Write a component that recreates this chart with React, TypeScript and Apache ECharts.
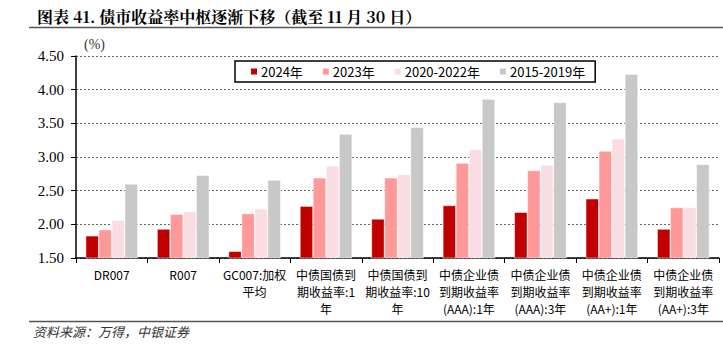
import React, { useEffect, useRef } from "react";
import * as echarts from "echarts";

const categories = [
  "DR007",
  "R007",
  "GC007:加权\n平均",
  "中债国债到\n期收益率:1\n年",
  "中债国债到\n期收益率:10\n年",
  "中债企业债\n到期收益率\n(AAA):1年",
  "中债企业债\n到期收益率\n(AAA):3年",
  "中债企业债\n到期收益率\n(AA+):1年",
  "中债企业债\n到期收益率\n(AA+):3年",
];
const seriesNames = ["2024年", "2023年", "2020-2022年", "2015-2019年"];
const y2024 = [1.83, 1.93, 1.6, 2.27, 2.08, 2.28, 2.18, 2.38, 1.93];
const y2023 = [1.92, 2.15, 2.16, 2.69, 2.69, 2.91, 2.8, 3.09, 2.25];
const y2020_2022 = [2.06, 2.19, 2.23, 2.87, 2.74, 3.11, 2.88, 3.27, 2.25];
const y2015_2019 = [2.6, 2.73, 2.66, 3.34, 3.44, 3.86, 3.81, 4.23, 2.89];
const colors = ["#C00000", "#FF9999", "#FADDE2", "#C8C8C8"];

export default function App() {
  const ref = useRef<HTMLDivElement>(null);
  useEffect(() => {
    if (!ref.current) return;
    const chart = echarts.init(ref.current, null, { renderer: "svg" });
    const data = [y2024, y2023, y2020_2022, y2015_2019];
    chart.setOption({
      animation: false,
      backgroundColor: "#ffffff",
      title: {
        text: "图表 41. 债市收益率中枢逐渐下移（截至 11 月 30 日）",
        left: 32,
        top: 3,
        textStyle: {
          fontFamily: "Noto Serif CJK SC, Noto Sans CJK SC, serif",
          fontSize: 16,
          fontWeight: "bold",
          color: "#000",
        },
      },
      graphic: [
        { type: "line", shape: { x1: 29, y1: 27.5, x2: 723, y2: 27.5 }, style: { stroke: "#555", lineWidth: 1.5 } },
        { type: "line", shape: { x1: 29, y1: 321.5, x2: 723, y2: 321.5 }, style: { stroke: "#555", lineWidth: 1.5 } },
        {
          type: "text",
          left: 33,
          top: 325,
          style: {
            text: "资料来源：万得，中银证券",
            font: "italic 13px 'Noto Sans CJK SC'",
            fill: "#333",
          },
        },
        {
          type: "text",
          left: 84,
          top: 37,
          style: { text: "(%)", font: "14px 'Liberation Serif'", fill: "#333" },
        },
      ],
      legend: {
        left: 235,
        top: 61,
        width: 357,
        itemWidth: 8,
        itemHeight: 8,
        itemGap: 18,
        padding: [4, 10, 4, 14],
        borderColor: "#000",
        borderWidth: 1.5,
        icon: "rect",
        textStyle: { fontFamily: "Noto Sans CJK SC", fontSize: 13, color: "#000", padding: [0, 0, 0, -2] },
        data: seriesNames,
      },
      grid: { left: 76, right: 4, top: 56, bottom: 91, containLabel: false },
      xAxis: {
        type: "category",
        data: categories,
        axisLine: { lineStyle: { color: "#000", width: 1.5 } },
        axisTick: { show: true, length: 5, lineStyle: { color: "#000" } },
        axisLabel: {
          interval: 0,
          margin: 8,
          fontFamily: "Noto Sans CJK SC",
          fontSize: 12,
          lineHeight: 17,
          color: "#000",
        },
      },
      yAxis: {
        type: "value",
        min: 1.5,
        max: 4.5,
        interval: 0.5,
        axisLine: { show: true, lineStyle: { color: "#000", width: 1.5 } },
        axisTick: { show: true, length: 5, inside: false, lineStyle: { color: "#000" } },
        axisLabel: {
          formatter: (v: number) => v.toFixed(2),
          fontFamily: "Liberation Serif",
          fontSize: 15,
          color: "#000",
          margin: 12,
        },
        splitLine: { lineStyle: { color: "#666", type: [2, 2], width: 1 } },
      },
      series: seriesNames.map((name, i) => ({
        name,
        type: "bar",
        data: data[i],
        barGap: "0%",
        barCategoryGap: "27%",
        itemStyle: { color: colors[i], borderColor: "#fff", borderWidth: 0.5 },
      })),
    });
    return () => chart.dispose();
  }, []);
  return <div ref={ref} style={{ width: 723, height: 349, position: "absolute", left: 0, top: 0 }} />;
}
